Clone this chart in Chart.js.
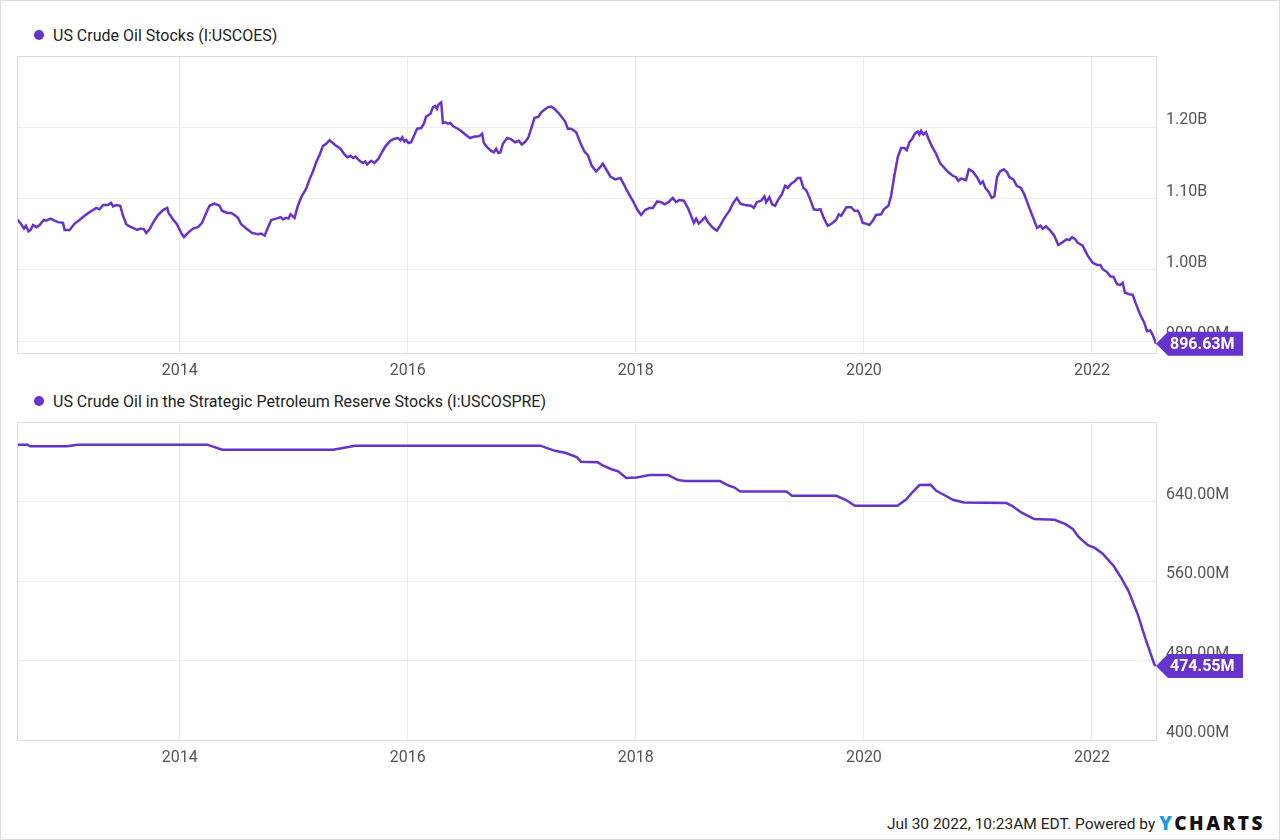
<!DOCTYPE html>
<html>
<head>
<meta charset="utf-8">
<script src="https://cdn.jsdelivr.net/npm/chart.js@4"></script>
<style>
  html, body { margin: 0; padding: 0; background: #fff; }
  #frame {
    position: relative; width: 1280px; height: 840px; box-sizing: border-box;
    border: 1px solid #dcdcdc; overflow: hidden; font-family: Roboto, sans-serif;
  }
  canvas { position: absolute; left: 0; }
  .legend {
    position: absolute; left: 33px; font-size: 16px; color: #222; line-height: 20px;
  }
  .legend .dot {
    display: inline-block; width: 10px; height: 10px; border-radius: 50%;
    background: #6633CC; margin-right: 9px; vertical-align: 1px;
  }
  #footer {
    position: absolute; right: 14px; top: 811px; font-size: 15.5px; color: #222; line-height: 22px;
  }
  #footer .logo {
    font-family: "Open Sans", sans-serif; font-weight: 800; font-size: 19px;
    letter-spacing: 2.5px; color: #111; vertical-align: -1px;
  }
  #footer .logo span { color: #1d9be2; }
</style>
</head>
<body>
<div id="frame">
  <div class="legend" style="top:25px"><span class="dot"></span>US Crude Oil Stocks (I:USCOES)</div>
  <canvas id="chart-oil" width="1280" height="380" style="top:0"></canvas>
  <div class="legend" style="top:391px"><span class="dot"></span>US Crude Oil in the Strategic Petroleum Reserve Stocks (I:USCOSPRE)</div>
  <canvas id="chart-spr" width="1280" height="400" style="top:380px"></canvas>
  <div id="footer">Jul 30 2022, 10:23AM EDT. Powered by <span class="logo"><span>Y</span>CHARTS</span></div>
</div>
<script>
/* ─── Data (values in millions of barrels, x in decimal years) ─── */
const X_MIN = 2012.5726;
const X_MAX = 2022.562;
const YEAR_TICKS = [2014, 2016, 2018, 2020, 2022];

const oilYears = [
  2012.575, 2012.610, 2012.634, 2012.651, 2012.674, 2012.692, 2012.713, 2012.742, 2012.771, 2012.806,
  2012.829, 2012.865, 2012.902, 2012.932, 2012.976, 2012.990, 2013.034, 2013.078, 2013.121, 2013.165,
  2013.200, 2013.239, 2013.268, 2013.297, 2013.327, 2013.370, 2013.399, 2013.414, 2013.443, 2013.478,
  2013.502, 2013.531, 2013.560, 2013.590, 2013.627, 2013.656, 2013.686, 2013.706, 2013.735, 2013.765,
  2013.809, 2013.853, 2013.890, 2013.902, 2013.940, 2013.975, 2014.013, 2014.037, 2014.072, 2014.116,
  2014.160, 2014.195, 2014.224, 2014.261, 2014.305, 2014.349, 2014.370, 2014.416, 2014.452, 2014.480,
  2014.510, 2014.539, 2014.583, 2014.633, 2014.686, 2014.715, 2014.744, 2014.773, 2014.802, 2014.846,
  2014.884, 2014.905, 2014.934, 2014.954, 2014.972, 2015.007, 2015.036, 2015.065, 2015.109, 2015.138,
  2015.168, 2015.197, 2015.226, 2015.256, 2015.285, 2015.313, 2015.343, 2015.372, 2015.410, 2015.440,
  2015.469, 2015.498, 2015.519, 2015.541, 2015.577, 2015.606, 2015.626, 2015.644, 2015.679, 2015.708,
  2015.743, 2015.773, 2015.802, 2015.846, 2015.883, 2015.913, 2015.936, 2015.951, 2015.971, 2015.986,
  2016.006, 2016.030, 2016.054, 2016.082, 2016.118, 2016.141, 2016.161, 2016.199, 2016.220, 2016.240,
  2016.255, 2016.269, 2016.293, 2016.308, 2016.328, 2016.352, 2016.372, 2016.401, 2016.439, 2016.474,
  2016.512, 2016.547, 2016.585, 2016.609, 2016.629, 2016.652, 2016.667, 2016.702, 2016.731, 2016.755,
  2016.775, 2016.795, 2016.813, 2016.834, 2016.872, 2016.907, 2016.942, 2016.974, 2017.000, 2017.032,
  2017.058, 2017.082, 2017.111, 2017.146, 2017.170, 2017.193, 2017.228, 2017.257, 2017.286, 2017.316,
  2017.351, 2017.380, 2017.404, 2017.433, 2017.477, 2017.514, 2017.549, 2017.579, 2017.614, 2017.652,
  2017.681, 2017.711, 2017.740, 2017.777, 2017.819, 2017.865, 2017.895, 2017.930, 2017.974, 2018.011,
  2018.046, 2018.082, 2018.119, 2018.149, 2018.187, 2018.222, 2018.251, 2018.286, 2018.324, 2018.353,
  2018.382, 2018.421, 2018.456, 2018.479, 2018.509, 2018.529, 2018.552, 2018.579, 2018.608, 2018.637,
  2018.675, 2018.710, 2018.739, 2018.777, 2018.821, 2018.851, 2018.886, 2018.917, 2018.958, 2019.011,
  2019.035, 2019.061, 2019.099, 2019.128, 2019.143, 2019.171, 2019.195, 2019.221, 2019.250, 2019.280,
  2019.309, 2019.333, 2019.362, 2019.391, 2019.420, 2019.443, 2019.470, 2019.493, 2019.522, 2019.561,
  2019.590, 2019.619, 2019.648, 2019.683, 2019.719, 2019.756, 2019.780, 2019.800, 2019.824, 2019.847,
  2019.888, 2019.917, 2019.947, 2019.969, 2019.990, 2020.019, 2020.048, 2020.078, 2020.107, 2020.151,
  2020.175, 2020.215, 2020.239, 2020.267, 2020.297, 2020.326, 2020.355, 2020.376, 2020.399, 2020.423,
  2020.452, 2020.473, 2020.487, 2020.502, 2020.522, 2020.545, 2020.566, 2020.598, 2020.633, 2020.671,
  2020.706, 2020.741, 2020.780, 2020.808, 2020.829, 2020.852, 2020.896, 2020.920, 2020.955, 2020.992,
  2021.022, 2021.043, 2021.065, 2021.092, 2021.121, 2021.144, 2021.168, 2021.194, 2021.227, 2021.256,
  2021.276, 2021.311, 2021.341, 2021.378, 2021.407, 2021.451, 2021.490, 2021.519, 2021.548, 2021.569,
  2021.598, 2021.635, 2021.670, 2021.705, 2021.744, 2021.779, 2021.802, 2021.826, 2021.852, 2021.876,
  2021.919, 2021.963, 2022.007, 2022.045, 2022.074, 2022.095, 2022.132, 2022.161, 2022.191, 2022.220,
  2022.249, 2022.270, 2022.290, 2022.328, 2022.358, 2022.387, 2022.424, 2022.459, 2022.483, 2022.512,
  2022.533, 2022.562
];
const oilStocks = [
  1071, 1064, 1058, 1062, 1054, 1056, 1063, 1060, 1063, 1070,
  1069, 1072, 1069, 1067, 1066, 1056, 1056, 1065, 1070, 1076,
  1080, 1084, 1087, 1085, 1091, 1091, 1094, 1089, 1091, 1090,
  1076, 1064, 1061, 1059, 1056, 1058, 1057, 1052, 1057, 1066,
  1077, 1084, 1087, 1080, 1071, 1064, 1052, 1046, 1052, 1058,
  1060, 1066, 1077, 1090, 1093, 1090, 1083, 1080, 1080, 1077,
  1073, 1064, 1058, 1052, 1050, 1051, 1048, 1059, 1070, 1072,
  1074, 1071, 1073, 1072, 1078, 1073, 1090, 1102, 1114, 1127,
  1138, 1151, 1161, 1174, 1177, 1182, 1178, 1174, 1170, 1163,
  1158, 1160, 1157, 1159, 1153, 1150, 1152, 1148, 1153, 1150,
  1156, 1165, 1173, 1181, 1184, 1185, 1182, 1186, 1180, 1182,
  1178, 1179, 1188, 1198, 1199, 1205, 1215, 1219, 1228, 1230,
  1226, 1232, 1235, 1206, 1207, 1205, 1206, 1201, 1198, 1194,
  1189, 1185, 1187, 1187, 1188, 1191, 1178, 1171, 1167, 1165,
  1170, 1164, 1165, 1177, 1185, 1183, 1179, 1181, 1176, 1180,
  1186, 1198, 1213, 1215, 1221, 1224, 1228, 1229, 1226, 1221,
  1214, 1208, 1198, 1198, 1193, 1178, 1166, 1161, 1146, 1138,
  1143, 1149, 1141, 1131, 1127, 1129, 1120, 1109, 1097, 1085,
  1077, 1084, 1087, 1087, 1096, 1095, 1092, 1095, 1101, 1095,
  1098, 1097, 1087, 1078, 1066, 1072, 1065, 1069, 1074, 1066,
  1059, 1055, 1062, 1073, 1083, 1093, 1101, 1093, 1091, 1090,
  1087, 1095, 1097, 1103, 1095, 1102, 1092, 1090, 1099, 1106,
  1118, 1115, 1121, 1124, 1129, 1129, 1115, 1112, 1102, 1085,
  1084, 1085, 1073, 1062, 1065, 1070, 1078, 1076, 1082, 1088,
  1088, 1083, 1083, 1076, 1066, 1065, 1063, 1069, 1077, 1078,
  1085, 1090, 1104, 1132, 1158, 1171, 1171, 1168, 1179, 1184,
  1192, 1194, 1190, 1195, 1190, 1193, 1184, 1173, 1163, 1149,
  1143, 1137, 1132, 1130, 1125, 1128, 1126, 1141, 1138, 1130,
  1121, 1124, 1115, 1110, 1101, 1103, 1130, 1138, 1141, 1137,
  1130, 1127, 1118, 1115, 1106, 1087, 1071, 1059, 1062, 1058,
  1061, 1055, 1048, 1035, 1039, 1043, 1042, 1046, 1043, 1038,
  1034, 1020, 1010, 1007, 1007, 1001, 997, 991, 990, 980,
  979, 982, 968, 966, 965, 952, 937, 926, 914, 915,
  909, 896.63
];

const sprYears = [
  2012.5726, 2012.668, 2012.685, 2013.009, 2013.107, 2014.241, 2014.372, 2015.345, 2015.539, 2017.161,
  2017.291, 2017.389, 2017.485, 2017.518, 2017.666, 2017.715, 2017.780, 2017.845, 2017.916, 2018.007,
  2018.120, 2018.283, 2018.371, 2018.429, 2018.737, 2018.818, 2018.866, 2018.915, 2019.320, 2019.370,
  2019.759, 2019.840, 2019.921, 2020.294, 2020.375, 2020.423, 2020.488, 2020.586, 2020.635, 2020.700,
  2020.780, 2020.878, 2021.250, 2021.299, 2021.380, 2021.494, 2021.672, 2021.769, 2021.834, 2021.883,
  2021.965, 2022.029, 2022.094, 2022.191, 2022.256, 2022.321, 2022.402, 2022.467, 2022.548, 2022.562
];
const sprStocks = [
  697, 697, 695.5, 695.5, 697.2, 697.2, 692.2, 692.2, 696.2, 696.2,
  691, 688.8, 684.4, 680, 679.4, 676, 672.7, 670.3, 663.6, 664.2,
  666.6, 666.6, 661.6, 660.6, 660.6, 655.8, 654, 650, 650, 645.8,
  645.8, 641.7, 635.7, 635.7, 642.4, 649, 656.5, 656.8, 650.8, 646.8,
  641.7, 639, 638.4, 635.7, 629, 622.3, 621.6, 617.2, 612.1, 604.4,
  596, 593, 587.5, 575.1, 563.3, 549.9, 526.4, 502.8, 476, 474.55
];

const OIL_TICKS = [900, 1000, 1100, 1200];
const SPR_TICKS = [400, 480, 560, 640];

/* ─── Style ─── */
const PURPLE = '#6633CC';
const GRID   = '#ededed';
const FRAME  = '#dedede';
const TICK_FONT = { family: 'Roboto', size: 16 };

const fmtOil = v => v >= 1000 ? (v / 1000).toFixed(2) + 'B' : v.toFixed(2) + 'M';
const fmtSpr = v => v.toFixed(2) + 'M';

/* ─── Plugins ─── */
const framePlugin = {
  id: 'frame',
  afterDraw(chart) {
    const { ctx, chartArea: a } = chart;
    ctx.save();
    ctx.strokeStyle = FRAME;
    ctx.lineWidth = 1;
    ctx.strokeRect(Math.round(a.left) + 0.5, Math.round(a.top) + 0.5,
                   Math.round(a.right - a.left), Math.round(a.bottom - a.top));
    ctx.restore();
  },
};

// purple flag with last value, pointing at the line end
const lastValuePlugin = {
  id: 'lastValue',
  afterDraw(chart, args, opts) {
    const data = chart.data.datasets[0].data;
    const last = data[data.length - 1];
    const x = chart.scales.x.getPixelForValue(last.x);
    const y = chart.scales.y.getPixelForValue(last.y);
    const { ctx } = chart;
    const h = 24, tip = 12, w = 75;
    ctx.save();
    ctx.fillStyle = PURPLE;
    ctx.beginPath();
    ctx.moveTo(x, y);
    ctx.lineTo(x + tip, y - h / 2);
    ctx.lineTo(x + tip + w, y - h / 2);
    ctx.lineTo(x + tip + w, y + h / 2);
    ctx.lineTo(x + tip, y + h / 2);
    ctx.closePath();
    ctx.fill();
    ctx.fillStyle = '#fff';
    ctx.font = 'bold 16px Roboto';
    ctx.textAlign = 'left';
    ctx.textBaseline = 'middle';
    ctx.fillText(opts.fmt(last.y), x + tip + 2, y + 1);
    ctx.restore();
  },
};

/* ─── Builder ─── */
function mkChart(id, xs, ys, cfg) {
  const ctx = document.getElementById(id).getContext('2d');
  return new Chart(ctx, {
    type: 'line',
    data: {
      datasets: [{
        data: xs.map((x, i) => ({ x, y: ys[i] })),
        borderColor: PURPLE,
        borderWidth: 2.5,
        pointRadius: 0,
        tension: 0,
        fill: false,
      }],
    },
    options: {
      responsive: false,
      animation: false,
      layout: { padding: { left: 16, top: cfg.top, right: 0, bottom: 0 } },
      plugins: {
        legend: { display: false },
        tooltip: { enabled: false },
        lastValue: { fmt: cfg.fmt },
      },
      scales: {
        x: {
          type: 'linear',
          min: X_MIN, max: X_MAX,
          afterBuildTicks: s => { s.ticks = YEAR_TICKS.map(v => ({ value: v })); },
          afterFit: s => { s.height = cfg.xAxisH; },
          grid: { color: GRID, drawTicks: false },
          border: { display: false },
          ticks: { color: '#555', font: TICK_FONT, padding: 8, maxRotation: 0, callback: v => String(v) },
        },
        y: {
          position: 'right',
          min: cfg.min, max: cfg.max,
          afterBuildTicks: s => { s.ticks = cfg.ticks.map(v => ({ value: v })); },
          afterFit: s => { s.width = 125; },
          grid: { color: GRID, drawTicks: false },
          border: { display: false },
          ticks: { color: '#555', font: TICK_FONT, padding: 10, labelOffset: -7, callback: cfg.fmt },
        },
      },
    },
    plugins: [framePlugin, lastValuePlugin],
  });
}

mkChart('chart-oil', oilYears, oilStocks, {
  top: 55, xAxisH: 28, min: 883.5, max: 1300, ticks: OIL_TICKS, fmt: fmtOil,
});
mkChart('chart-spr', sprYears, sprStocks, {
  top: 41, xAxisH: 41, min: 400, max: 720, ticks: SPR_TICKS, fmt: fmtSpr,
});
</script>
</body>
</html>
